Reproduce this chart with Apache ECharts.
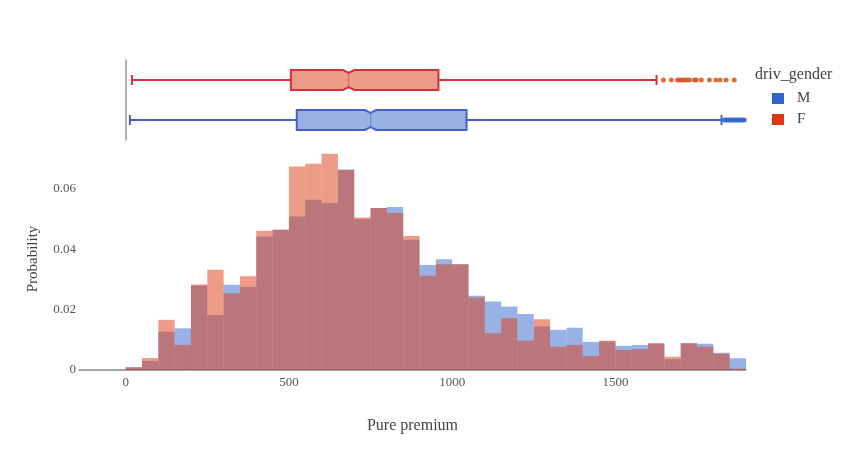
<!DOCTYPE html>
<html>
<head>
<meta charset="utf-8">
<script src="https://cdn.jsdelivr.net/npm/echarts@6/dist/echarts.min.js"></script>
<style>
  html, body { margin: 0; padding: 0; background: #fff; }
  #chart { width: 857px; height: 450px; }
</style>
</head>
<body>
<div id="chart"></div>
<script>
// histogram bins (width 50)
var binStarts = [0, 50, 100, 150, 200, 250, 300, 350, 400, 450, 500, 550, 600, 650, 700, 750, 800, 850, 900, 950,
                 1000, 1050, 1100, 1150, 1200, 1250, 1300, 1350, 1400, 1450, 1500, 1550, 1600, 1650, 1700, 1750, 1800, 1850]
var binWidth = 50

var probM = [0.0009, 0.0030, 0.0127, 0.0138, 0.0280, 0.0182, 0.0282, 0.0276, 0.0442, 0.0464,
             0.0508, 0.0564, 0.0553, 0.0664, 0.0500, 0.0536, 0.0540, 0.0431, 0.0348, 0.0367,
             0.0350, 0.0246, 0.0227, 0.0210, 0.0185, 0.0144, 0.0133, 0.0140, 0.0093, 0.0095,
             0.0080, 0.0083, 0.0087, 0.0036, 0.0088, 0.0087, 0.0057, 0.0039]
var probF = [0.0009, 0.0040, 0.0166, 0.0083, 0.0283, 0.0332, 0.0254, 0.0310, 0.0461, 0.0464,
             0.0674, 0.0683, 0.0716, 0.0662, 0.0505, 0.0536, 0.0520, 0.0444, 0.0312, 0.0350,
             0.0350, 0.0240, 0.0122, 0.0171, 0.0097, 0.0168, 0.0077, 0.0083, 0.0046, 0.0097,
             0.0066, 0.0069, 0.0089, 0.0044, 0.0089, 0.0077, 0.0054, 0.0004]

// marginal box plots: [low whisker, q1, median, q3, high whisker, notch low, notch high]
var boxM = [13, 524, 750, 1044, 1825, 733, 767]
var boxF = [19, 506, 683, 958, 1626, 666, 700]
var outliersM = [1834, 1838, 1843, 1848, 1852, 1857, 1862, 1866, 1871, 1876, 1880, 1885, 1890, 1895]
var outliersF = [1647, 1671, 1690, 1697, 1704, 1711, 1718, 1727, 1742, 1748, 1763, 1788, 1808, 1821, 1839, 1864]

var genders = ['M', 'F']
var colM = '#3366cc'
var colF = '#dc3912'
var fontFam = '"Liberation Serif", "DejaVu Serif", serif'

function histData(vals) {
  return binStarts.map(function (s, i) { return [s, s + binWidth, vals[i]] })
}

function histItem(color) {
  return function (params, api) {
    var p0 = api.coord([api.value(0), api.value(2)])
    var p1 = api.coord([api.value(1), 0])
    return {
      type: 'rect',
      shape: { x: p0[0], y: p0[1], width: p1[0] - p0[0], height: p1[1] - p0[1] },
      style: { fill: color, opacity: 0.5 }
    }
  }
}

function boxItem(lineColor, fillColor) {
  return function (params, api) {
    var cat = api.value(0)
    var lo = api.coord([api.value(1), cat])
    var q1 = api.coord([api.value(2), cat])
    var md = api.coord([api.value(3), cat])
    var q3 = api.coord([api.value(4), cat])
    var hi = api.coord([api.value(5), cat])
    var nl = api.coord([api.value(6), cat])
    var nh = api.coord([api.value(7), cat])
    var band = api.size([0, 1])[1]
    var cy = md[1]
    var h = band * 0.25
    var ind = h * 0.28
    var cap = 5
    return {
      type: 'group',
      children: [
        { type: 'line', shape: { x1: lo[0], y1: cy, x2: q1[0], y2: cy }, style: { stroke: lineColor, lineWidth: 2 } },
        { type: 'line', shape: { x1: q3[0], y1: cy, x2: hi[0], y2: cy }, style: { stroke: lineColor, lineWidth: 2 } },
        { type: 'line', shape: { x1: lo[0], y1: cy - cap, x2: lo[0], y2: cy + cap }, style: { stroke: lineColor, lineWidth: 2 } },
        { type: 'line', shape: { x1: hi[0], y1: cy - cap, x2: hi[0], y2: cy + cap }, style: { stroke: lineColor, lineWidth: 2 } },
        {
          type: 'polygon',
          shape: {
            points: [
              [q1[0], cy - h], [nl[0], cy - h], [md[0], cy - h + ind], [nh[0], cy - h], [q3[0], cy - h],
              [q3[0], cy + h], [nh[0], cy + h], [md[0], cy + h - ind], [nl[0], cy + h], [q1[0], cy + h]
            ]
          },
          style: { fill: fillColor, stroke: lineColor, lineWidth: 2 }
        },
        { type: 'line', shape: { x1: md[0], y1: cy - h + ind, x2: md[0], y2: cy + h - ind }, style: { stroke: lineColor, lineWidth: 1, opacity: 0.6 } }
      ]
    }
  }
}

var chart = echarts.init(document.getElementById('chart'))

chart.setOption({
  backgroundColor: '#fff',
  animation: false,
  textStyle: { fontFamily: fontFam },
  legend: {
    orient: 'vertical',
    left: 767,
    top: 86,
    itemWidth: 12,
    itemHeight: 11,
    itemGap: 6,
    icon: 'rect',
    textStyle: { fontFamily: fontFam, fontSize: 15, color: '#444', padding: [0, 0, 0, 8] },
    data: [
      { name: 'M', itemStyle: { color: colM } },
      { name: 'F', itemStyle: { color: colF } }
    ]
  },
  graphic: [
    {
      type: 'text', left: 755, top: 67,
      style: { text: 'driv_gender', font: '16px ' + fontFam, fill: '#444' }
    }
  ],
  grid: [
    { left: 79, right: 111, top: 148, bottom: 80 },
    { left: 79, right: 111, top: 60, height: 80 }
  ],
  xAxis: [
    {
      type: 'value', gridIndex: 0, min: -143, max: 1900,
      name: 'Pure premium', nameLocation: 'middle', nameGap: 48,
      nameTextStyle: { fontFamily: fontFam, fontSize: 16, color: '#444' },
      axisLine: { show: true, lineStyle: { color: '#888', width: 1.5 } },
      axisTick: { show: false },
      splitLine: { show: false },
      axisLabel: {
        showMinLabel: false, showMaxLabel: false, margin: 6, fontSize: 13, color: '#555', fontFamily: fontFam,
        formatter: function (v) { return String(v) }
      }
    },
    {
      type: 'value', gridIndex: 1, min: -143, max: 1900, show: false
    }
  ],
  yAxis: [
    {
      type: 'value', gridIndex: 0, min: 0, max: 0.0735, interval: 0.02,
      name: 'Probability', nameLocation: 'middle', nameGap: 38,
      nameTextStyle: { fontFamily: fontFam, fontSize: 15, color: '#444' },
      axisLine: { show: false },
      axisTick: { show: false },
      splitLine: { show: false },
      axisLabel: { showMaxLabel: false, margin: 3, fontSize: 13, color: '#555', fontFamily: fontFam }
    },
    {
      type: 'category', gridIndex: 1, data: genders,
      axisLine: { show: true, onZero: true, lineStyle: { color: '#999', width: 1.5 } },
      axisTick: { show: false },
      axisLabel: { show: false },
      splitLine: { show: false }
    }
  ],
  series: [
    {
      name: 'M', type: 'custom', xAxisIndex: 0, yAxisIndex: 0,
      renderItem: histItem(colM), encode: { x: [0, 1], y: 2 },
      data: histData(probM), itemStyle: { color: colM }
    },
    {
      name: 'F', type: 'custom', xAxisIndex: 0, yAxisIndex: 0,
      renderItem: histItem(colF), encode: { x: [0, 1], y: 2 },
      data: histData(probF), itemStyle: { color: colF }
    },
    {
      name: 'M', type: 'custom', xAxisIndex: 1, yAxisIndex: 1,
      renderItem: boxItem('#4a5fc4', 'rgba(51,102,204,0.5)'), encode: { x: [1, 2, 3, 4, 5], y: 0 },
      data: [[0].concat(boxM)], itemStyle: { color: colM }
    },
    {
      name: 'F', type: 'custom', xAxisIndex: 1, yAxisIndex: 1,
      renderItem: boxItem('#d0343a', 'rgba(220,57,18,0.5)'), encode: { x: [1, 2, 3, 4, 5], y: 0 },
      data: [[1].concat(boxF)], itemStyle: { color: colF }
    },
    {
      name: 'M', type: 'scatter', xAxisIndex: 1, yAxisIndex: 1,
      symbolSize: 5,
      itemStyle: { color: colM, opacity: 0.8 },
      data: outliersM.map(function (v) { return [v, 0] })
    },
    {
      name: 'F', type: 'scatter', xAxisIndex: 1, yAxisIndex: 1,
      symbolSize: 5,
      itemStyle: { color: '#d9531e', opacity: 0.85 },
      data: outliersF.map(function (v) { return [v, 1] })
    }
  ]
})

window.addEventListener('resize', function () { chart.resize() })
</script>
</body>
</html>
